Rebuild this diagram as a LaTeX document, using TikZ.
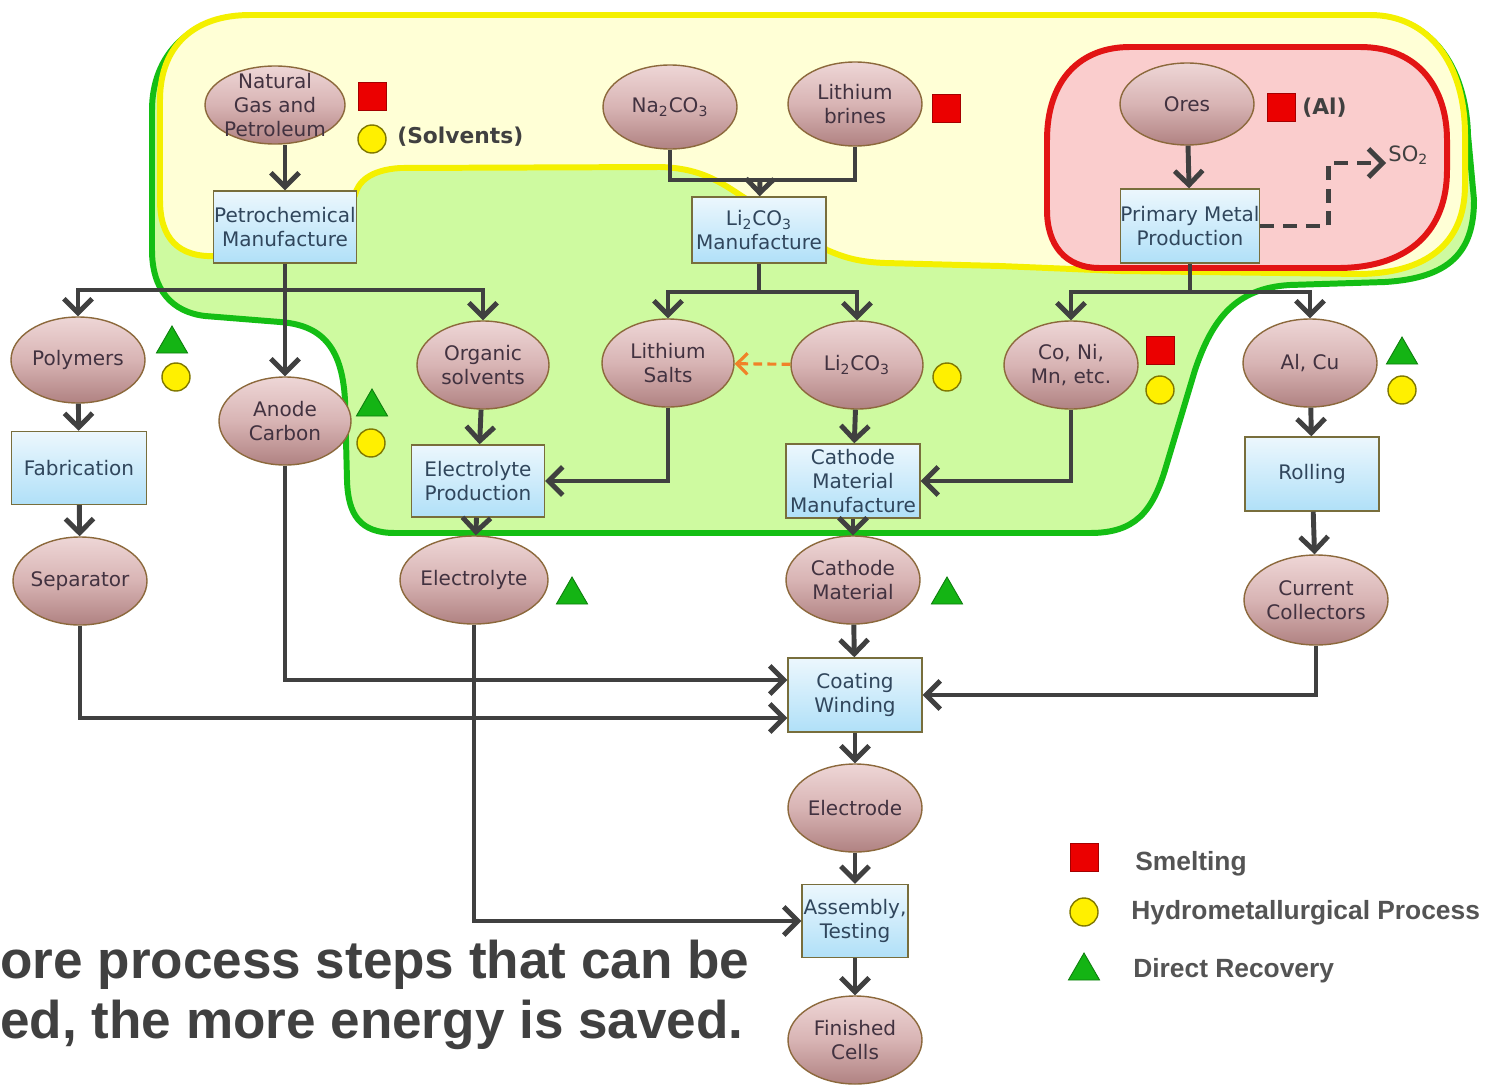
\documentclass[tikz,border=0pt]{standalone}
\usepackage{fontspec}
\setmainfont{DejaVu Sans}
\newfontfamily\libsans{Liberation Sans}
\usetikzlibrary{shapes.geometric,arrows.meta,calc}
\newlength\pxu \setlength\pxu{0.02cm}
\newcommand\ndfont{\fontsize{11.4}{13.4}\selectfont}
\definecolor{ellT}{RGB}{238,214,214}
\definecolor{ellM}{RGB}{216,180,180}
\definecolor{ellB}{RGB}{176,130,130}
\definecolor{ellbd}{RGB}{140,105,60}
\definecolor{boxT}{RGB}{236,247,253}
\definecolor{boxB}{RGB}{176,224,248}
\definecolor{boxbd}{RGB}{120,110,60}
\definecolor{etx}{RGB}{66,50,64}
\definecolor{btx}{RGB}{48,70,92}
\definecolor{cc}{RGB}{64,64,64}
\definecolor{grF}{RGB}{206,250,160}
\definecolor{grL}{RGB}{20,190,20}
\definecolor{yeF}{RGB}{255,255,214}
\definecolor{yeL}{RGB}{244,240,0}
\definecolor{rdF}{RGB}{250,205,205}
\definecolor{rdL}{RGB}{226,20,20}
\definecolor{symR}{RGB}{235,0,0}
\definecolor{symY}{RGB}{255,240,0}
\definecolor{symG}{RGB}{20,180,20}
\definecolor{orng}{RGB}{240,130,40}
\definecolor{txg}{RGB}{64,64,64}
\definecolor{leg}{RGB}{84,84,84}
\tikzset{
  ell/.style={ellipse, draw=ellbd, line width=0.8pt, top color=ellT, bottom color=ellB, middle color=ellM,
    minimum width=134\pxu, minimum height=88\pxu, inner sep=0pt},
  etext/.style={align=center, font=\ndfont, text=etx, inner sep=0pt},
  procbox/.style={rectangle, draw=boxbd, line width=0.8pt, top color=boxT, bottom color=boxB,
    minimum width=134\pxu, minimum height=74\pxu, inner sep=0pt, align=center, font=\ndfont, text=btx},
  cline/.style={draw=cc, line width=2.8pt},
  arr/.style={cline, -{Straight Barb[length=8pt,width=16pt]}},
  orarr/.style={draw=orng, line width=1.8pt, dash pattern=on 5pt off 3pt, -{Straight Barb[length=6pt,width=12pt]}},
  dasharr/.style={cline, dash pattern=on 8pt off 5pt, -{Straight Barb[length=8pt,width=16pt]}},
  sqsym/.style={rectangle, fill=symR, draw=symR!70!black, line width=0.5pt, minimum size=28\pxu, inner sep=0pt},
  hcsym/.style={circle, fill=symY, draw=symY!50!black, line width=0.8pt, minimum size=28\pxu, inner sep=0pt},
  trisym/.style={regular polygon, regular polygon sides=3, fill=symG, draw=symG!70!black, line width=0.5pt, minimum size=36\pxu, inner sep=0pt},
  smalltxt/.style={font=\bfseries\fontsize{12.4}{14}\selectfont, text=txg, inner sep=0pt},
  legtxt/.style={font=\libsans\bfseries\fontsize{15}{17}\selectfont, text=leg, inner sep=0pt, anchor=west},
  bigtxt/.style={font=\libsans\bfseries\fontsize{30.2}{34}\selectfont, text=txg, inner sep=0pt, anchor=base west}
}
\begin{document}
\begin{tikzpicture}[x=0.02cm,y=-0.02cm]
\fill[white] (0,0) rectangle (1491,1085);
\useasboundingbox (0,0) rectangle (1491,1085);

% regions
\draw[fill=grF, draw=grL, line width=3.4pt]
 (250,16) -- (1370,16) .. controls (1430,16) and (1466,65) .. (1468,135) -- (1474,200)
 .. controls (1474,252) and (1450,278) .. (1385,282) -- (1290,285)
 .. controls (1235,288) and (1212,320) .. (1195,370) -- (1165,470)
 .. controls (1152,512) and (1135,533) .. (1090,533) -- (395,533)
 .. controls (360,533) and (348,515) .. (347,480) -- (345,400)
 .. controls (342,345) and (320,325) .. (280,322) -- (205,316)
 .. controls (172,312) and (152,290) .. (152,250) -- (152,110)
 .. controls (152,55) and (190,16) .. (250,16) -- cycle;
\draw[fill=yeF, draw=yeL, line width=3.4pt]
 (250,15) -- (1370,15) .. controls (1430,15) and (1465,65) .. (1465,135) -- (1465,185)
 .. controls (1465,245) and (1425,273) .. (1360,274) -- (1120,271) -- (1000,266) -- (885,263)
 .. controls (860,262) and (845,258) .. (827,250) -- (740,195)
 .. controls (715,178) and (695,168) .. (660,167) -- (400,168)
 .. controls (370,170) and (358,182) .. (355,195) -- (217,256)
 .. controls (178,258) and (160,238) .. (160,200) -- (160,100)
 .. controls (160,45) and (195,15) .. (250,15) -- cycle;
\draw[fill=rdF, draw=rdL, line width=3.4pt]
 (1130,47) -- (1360,47) .. controls (1420,47) and (1447,90) .. (1447,140) -- (1447,170)
 .. controls (1447,230) and (1410,267) .. (1340,268) -- (1100,268)
 .. controls (1065,268) and (1047,245) .. (1047,210) -- (1047,140)
 .. controls (1047,80) and (1080,47) .. (1130,47) -- cycle;

% ellipse nodes
\node[ell, minimum width=140\pxu, minimum height=78\pxu, label={[etext]center:Natural\\Gas and\\Petroleum}] (ng) at (275,105) {};
\node[ell, minimum height=84\pxu, label={[etext]center:Na\textsubscript{2}CO\textsubscript{3}}] (na) at (670,107) {};
\node[ell, minimum height=84\pxu, label={[etext]center:Lithium\\brines}] (brine) at (855,104) {};
\node[ell, minimum height=82\pxu, label={[etext]center:Ores}] (ores) at (1187,104) {};
\node[ell, minimum height=86\pxu, label={[etext]center:Polymers}] (poly) at (78,360) {};
\node[ell, minimum width=132\pxu, label={[etext]center:Anode\\Carbon}] (anode) at (285,421) {};
\node[ell, minimum width=132\pxu, label={[etext]center:Organic\\solvents}] (orgsol) at (483,365) {};
\node[ell, minimum width=132\pxu, label={[etext]center:Lithium\\Salts}] (lisalt) at (668,363) {};
\node[ell, minimum width=132\pxu, label={[etext]center:Li\textsubscript{2}CO\textsubscript{3}}] (li2) at (857,365) {};
\node[ell, label={[etext]center:Co, Ni,\\Mn, etc.}] (coni) at (1071,365) {};
\node[ell, label={[etext]center:Al, Cu}] (alcu) at (1310,363) {};
\node[ell, label={[etext]center:Separator}] (sep) at (80,581) {};
\node[ell, minimum width=148\pxu, label={[etext]center:Electrolyte}] (elyte) at (474,580) {};
\node[ell, label={[etext]center:Cathode\\Material}] (catmat) at (853,580) {};
\node[ell, minimum width=144\pxu, minimum height=90\pxu, label={[etext]center:Current\\Collectors}] (curcol) at (1316,600) {};
\node[ell, label={[etext]center:Electrode}] (electrode) at (855,808) {};
\node[ell, label={[etext]center:Finished\\Cells}] (fincell) at (855,1040) {};

% process boxes
\node[procbox, minimum width=143\pxu, minimum height=72\pxu] (petro) at (285,227) {Petrochemical\\Manufacture};
\node[procbox, minimum height=66\pxu] (li2man) at (759,230) {Li\textsubscript{2}CO\textsubscript{3}\\Manufacture};
\node[procbox] (pmp) at (1190,226) {Primary Metal\\Production};
\node[procbox, minimum width=135\pxu, minimum height=73\pxu] (fab) at (79,468) {Fabrication};
\node[procbox, minimum width=133\pxu, minimum height=72\pxu] (elprod) at (478,481) {Electrolyte\\Production};
\node[procbox] (catmfg) at (853,481) {Cathode\\Material\\Manufacture};
\node[procbox] (roll) at (1312,474) {Rolling};
\node[procbox] (coat) at (855,695) {Coating\\Winding};
\node[procbox, minimum width=106\pxu, minimum height=73\pxu] (assy) at (855,921) {Assembly,\\Testing};

% connectors
\draw[arr] (ng.south -| petro.north) -- (petro);
\coordinate (pb) at (285,290);
\draw[arr] (petro) -- (anode);
\draw[arr] (pb) -| (poly);
\draw[arr] (pb) -| (orgsol);
\coordinate (nb) at (760,180);
\draw[cline] (na) |- (nb) -| (brine);
\draw[arr] (nb) -- (li2man);
\coordinate (lb) at (759,292);
\draw[cline] (li2man) -- (lb);
\draw[arr] (lb) -| (lisalt);
\draw[arr] (lb) -| (li2);
\draw[orarr] (li2) -- (lisalt);
\draw[arr] (li2) -- (catmfg);
\draw[arr] (lisalt) |- (elprod);
\draw[arr] (orgsol) -- (elprod);
\draw[arr] (coni) |- (catmfg);
\draw[arr] (ores) -- (pmp);
\coordinate (mb) at (1190,292);
\draw[cline] (pmp) -- (mb);
\draw[arr] (mb) -| (coni);
\draw[arr] (mb) -| (alcu);
\coordinate (so2t) at (1386,163);
\draw[dasharr] (pmp.east) -- ++(68,0) |- (so2t);
\node[font=\fontsize{12}{14}\selectfont, text=txg, anchor=west, inner sep=0pt] (so2) at (1388,155) {SO\textsubscript{2}};
\draw[arr] (poly) -- (fab);
\draw[arr] (fab) -- (sep);
\draw[arr] (alcu) -- (roll);
\draw[arr] (roll) -- (curcol);
\draw[arr] (elprod) -- (elyte);
\draw[arr] (catmfg) -- (catmat);
\draw[arr] (catmat) -- (coat);
\draw[arr] (anode) |- ([yshift=0.3cm]coat.west);
\draw[arr] (sep) |- ([yshift=-0.46cm]coat.west);
\draw[arr] (curcol) |- (coat);
\draw[arr] (coat) -- (electrode);
\draw[arr] (electrode) -- (assy);
\draw[arr] (elyte) |- (assy);
\draw[arr] (assy) -- (fincell);

% symbols
\node[sqsym] (s1) at (372,96) {};
\node[hcsym] (c1) at (372,139) {};
\node[smalltxt, anchor=west] (solv) at (397,137) {(Solvents)};
\node[sqsym] (s2) at (946,108) {};
\node[sqsym] (s3) at (1281,107) {};
\node[smalltxt, anchor=west] (altxt) at (1302,108) {(Al)};
\node[trisym] (t1) at (172,344) {};
\node[hcsym] (c2) at (176,377) {};
\node[trisym] (t2) at (372,407) {};
\node[hcsym] (c3) at (371,443) {};
\node[hcsym] (c4) at (947,377) {};
\node[sqsym] (s4) at (1160,350) {};
\node[hcsym] (c5) at (1160,390) {};
\node[trisym] (t3) at (1402,355) {};
\node[hcsym] (c6) at (1402,390) {};
\node[trisym] (t4) at (572,595) {};
\node[trisym] (t5) at (947,595) {};

% legend
\node[sqsym] (ls) at (1084,857) {};
\node[hcsym] (lc) at (1084,912) {};
\node[trisym] (lt) at (1084,971) {};
\node[legtxt] (lst) at (1135,864) {Smelting};
\node[legtxt] (lct) at (1131,913) {Hydrometallurgical Process};
\node[legtxt] (ltt) at (1133,971) {Direct Recovery};

% caption
\node[bigtxt] (cap1) at (0,978) {ore process steps that can be};
\node[bigtxt] (cap2) at (0,1038) {ed, the more energy is saved.};
\end{tikzpicture}
\end{document}
